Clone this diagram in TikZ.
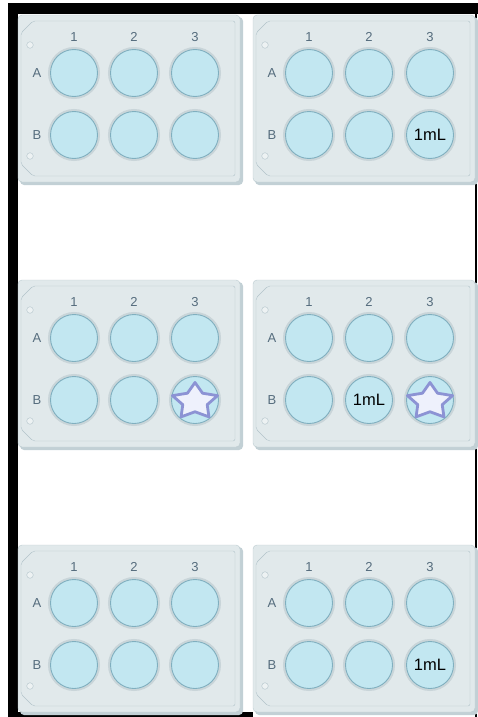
\documentclass[tikz,border=0pt]{standalone}
\usepackage{fontspec}
\setmainfont{Liberation Sans}
\usetikzlibrary{shapes.geometric}

\definecolor{platefill}{HTML}{E1E9EB}
\definecolor{plateedge}{HTML}{BCCBD0}
\definecolor{plateshadow}{HTML}{C2D0D5}
\definecolor{innerline}{HTML}{B2C4CA}
\definecolor{wellfill}{HTML}{C2E7F1}
\definecolor{wellrim}{HTML}{80AFBF}
\definecolor{halo}{HTML}{C9D5D9}
\definecolor{labelcol}{HTML}{556C7D}
\definecolor{starfill}{HTML}{EEF1FC}
\definecolor{starline}{HTML}{8C93D4}

\begin{document}
\begin{tikzpicture}[
  x=1pt, y=-1pt,
  well/.style={circle, draw=wellrim, fill=wellfill, line width=0.9pt,
    minimum size=47pt, inner sep=0pt,
    preaction={draw=halo, line width=5pt}},
  collabel/.style={text=labelcol, font=\fontsize{13}{13}\selectfont},
  vol/.style={font=\fontsize{16.5}{16.5}\selectfont, inner sep=0pt},
  starmark/.style={star, star points=5, star point ratio=1.85,
    minimum size=38pt, inner sep=0pt, draw=starline, fill=starfill,
    line width=2.8pt, line join=round, xscale=1.25, transform shape},
  plate/.pic={
    \fill[plateshadow, rounded corners=4pt] (2,2) rectangle (225,170);
    \draw[plateedge, fill=platefill, rounded corners=4pt] (0,0) rectangle (222,167);
    \draw[innerline, rounded corners=2pt] (3,18) -- (15,6) -- (217,6)
      -- (217,161) -- (15,161) -- (3,149) -- cycle;
    \draw[innerline, fill=platefill!60!white] (12,30) circle (3.3pt) (12,141) circle (3.3pt);
    \node[collabel] at (19,58) {A};
    \node[collabel] at (19,120) {B};
    \foreach \c/\xx in {1/56,2/116,3/177} {
      \node[collabel] at (\xx,22) {\c};
      \foreach \r/\yy in {A/58,B/120}
        \node[well] (-\r\c) at (\xx,\yy) {};
    }
  }
]
\useasboundingbox (0,0) rectangle (478,717);

% screen frame
\fill[black] (8,3) rectangle (478,14);
\fill[black] (8,3) rectangle (18,717);
\fill[black] (8,712) rectangle (253,717);
\fill[black] (475,14) rectangle (477,717);

\pic (p1) at (18,15)  {plate};
\pic (p2) at (253,15) {plate};
\pic (p3) at (18,280) {plate};
\pic (p4) at (253,280) {plate};
\pic (p5) at (18,545) {plate};
\pic (p6) at (253,545) {plate};

\node[vol] at (p2-B3) {1mL};
\node[starmark] (s3) at ([yshift=-1.5pt]p3-B3) {};
\node[vol] at (p4-B2) {1mL};
\node[starmark] (s4) at ([yshift=-1.5pt]p4-B3) {};
\node[vol] at (p6-B3) {1mL};
\end{tikzpicture}
\end{document}
